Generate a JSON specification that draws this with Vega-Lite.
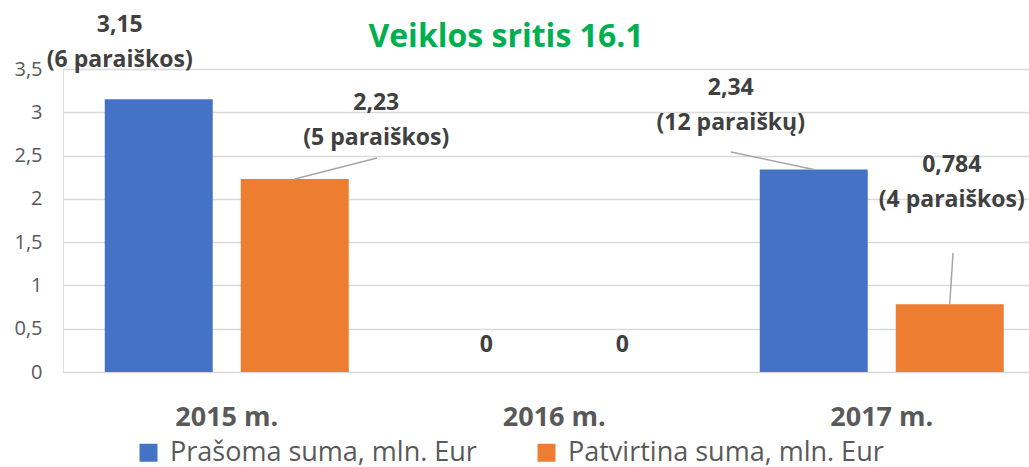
{
  "$schema": "https://vega.github.io/schema/vega-lite/v6.json",
  "width": 966,
  "height": 303,
  "autosize": {"type": "none"},
  "padding": {"left": 63, "top": 69, "right": 0, "bottom": 95},
  "background": "white",
  "title": {"text": "Veiklos sritis 16.1", "font": "Open Sans", "fontSize": 32, "fontWeight": "bold", "color": "#00B050", "anchor": "middle", "dx": -40, "dy": 92, "offset": 27, "baseline": "alphabetic"},
  "data": {"values": [
    {"year": "2015 m.", "series": "Prašoma suma, mln. Eur", "value": 3.15, "note": "(6 paraiškos)"},
    {"year": "2015 m.", "series": "Patvirtina suma, mln. Eur", "value": 2.23, "note": "(5 paraiškos)"},
    {"year": "2016 m.", "series": "Prašoma suma, mln. Eur", "value": 0, "note": ""},
    {"year": "2016 m.", "series": "Patvirtina suma, mln. Eur", "value": 0, "note": ""},
    {"year": "2017 m.", "series": "Prašoma suma, mln. Eur", "value": 2.34, "note": "(12 paraiškų)"},
    {"year": "2017 m.", "series": "Patvirtina suma, mln. Eur", "value": 0.784, "note": "(4 paraiškos)"}
  ]},
  "transform": [
    {"calculate": "replace(format(datum.value, '.3~r'), '.', ',') + (datum.note ? '\\n' + datum.note : '')", "as": "label"}
  ],
  "encoding": {
    "x": {"field": "year", "type": "nominal", "sort": null,
      "scale": {"range": [0, 982.5], "paddingInner": 0.255, "paddingOuter": 0.1275},
      "axis": {"title": null, "labelAngle": 0, "labelFont": "Open Sans", "labelFontSize": 27, "labelFontWeight": "bold", "labelColor": "#595959", "labelPadding": 32, "ticks": false, "domain": false, "grid": false}},
    "xOffset": {"field": "series", "type": "nominal", "scale": {"domain": ["Prašoma suma, mln. Eur", "Patvirtina suma, mln. Eur"], "paddingInner": 0.206, "paddingOuter": 0}},
    "y": {"field": "value", "type": "quantitative", "scale": {"domain": [0, 3.5], "nice": false},
      "axis": {"title": null, "values": [0, 0.5, 1, 1.5, 2, 2.5, 3, 3.5], "labelExpr": "replace(format(datum.value, '~g'), '.', ',')", "labelFont": "Open Sans", "labelFontSize": 20, "labelColor": "#595959", "labelPadding": 21, "ticks": false, "domain": false, "gridColor": "#D9D9D9", "gridWidth": 1.5}}
  },
  "layer": [
    {
      "mark": {"type": "bar"},
      "encoding": {
        "color": {"field": "series", "type": "nominal",
          "scale": {"domain": ["Prašoma suma, mln. Eur", "Patvirtina suma, mln. Eur"], "range": ["#4472C4", "#ED7D31"]},
          "legend": {"orient": "none", "legendX": 72, "legendY": 370, "direction": "horizontal", "title": null, "symbolType": "square", "symbolSize": 324, "symbolStrokeWidth": 0, "symbolOpacity": 1, "labelFont": "Open Sans", "labelFontSize": 27, "labelColor": "#595959", "labelOffset": 8, "columnPadding": 56, "labelLimit": 500}}
      }
    },
    {
      "transform": [{"filter": "datum.year == '2015 m.' && datum.series == 'Patvirtina suma, mln. Eur'"}],
      "mark": {"type": "rule", "color": "#A6A6A6", "strokeWidth": 1.5, "x2Offset": 150.25, "y2Offset": -21},
      "encoding": {"x2": {"field": "year"}, "y2": {"field": "value"}}
    },
    {
      "transform": [{"filter": "datum.year == '2017 m.' && datum.series == 'Prašoma suma, mln. Eur'"}],
      "mark": {"type": "rule", "color": "#A6A6A6", "strokeWidth": 1.5, "x2Offset": -150.75, "y2Offset": -17.4},
      "encoding": {"x2": {"field": "year"}, "y2": {"field": "value"}}
    },
    {
      "transform": [{"filter": "datum.year == '2017 m.' && datum.series == 'Patvirtina suma, mln. Eur'"}],
      "mark": {"type": "rule", "color": "#A6A6A6", "strokeWidth": 1.5, "x2Offset": 71.25, "y2Offset": -51},
      "encoding": {"x2": {"field": "year"}, "y2": {"field": "value"}}
    },
    {
      "transform": [{"filter": "datum.year == '2015 m.' && datum.series == 'Prašoma suma, mln. Eur'"}],
      "mark": {"type": "text", "font": "Open Sans", "fontSize": 23, "fontWeight": "bold", "color": "#404040", "lineBreak": "\n", "lineHeight": 35, "baseline": "alphabetic", "dx": -39, "dy": -67.6},
      "encoding": {"text": {"field": "label"}}
    },
    {
      "transform": [{"filter": "datum.year == '2015 m.' && datum.series == 'Patvirtina suma, mln. Eur'"}],
      "mark": {"type": "text", "font": "Open Sans", "fontSize": 23, "fontWeight": "bold", "color": "#404040", "lineBreak": "\n", "lineHeight": 35, "baseline": "alphabetic", "dx": 81.5, "dy": -69},
      "encoding": {"text": {"field": "label"}}
    },
    {
      "transform": [{"filter": "datum.year == '2016 m.'"}],
      "mark": {"type": "text", "font": "Open Sans", "fontSize": 23, "fontWeight": "bold", "color": "#404040", "baseline": "alphabetic", "dy": -20},
      "encoding": {"text": {"field": "label"}}
    },
    {
      "transform": [{"filter": "datum.year == '2017 m.' && datum.series == 'Prašoma suma, mln. Eur'"}],
      "mark": {"type": "text", "font": "Open Sans", "fontSize": 23, "fontWeight": "bold", "color": "#404040", "lineBreak": "\n", "lineHeight": 35, "baseline": "alphabetic", "dx": -83, "dy": -74},
      "encoding": {"text": {"field": "label"}}
    },
    {
      "transform": [{"filter": "datum.year == '2017 m.' && datum.series == 'Patvirtina suma, mln. Eur'"}],
      "mark": {"type": "text", "font": "Open Sans", "fontSize": 23, "fontWeight": "bold", "color": "#404040", "lineBreak": "\n", "lineHeight": 35, "baseline": "alphabetic", "dx": 2, "dy": -132},
      "encoding": {"text": {"field": "label"}}
    }
  ]
}
